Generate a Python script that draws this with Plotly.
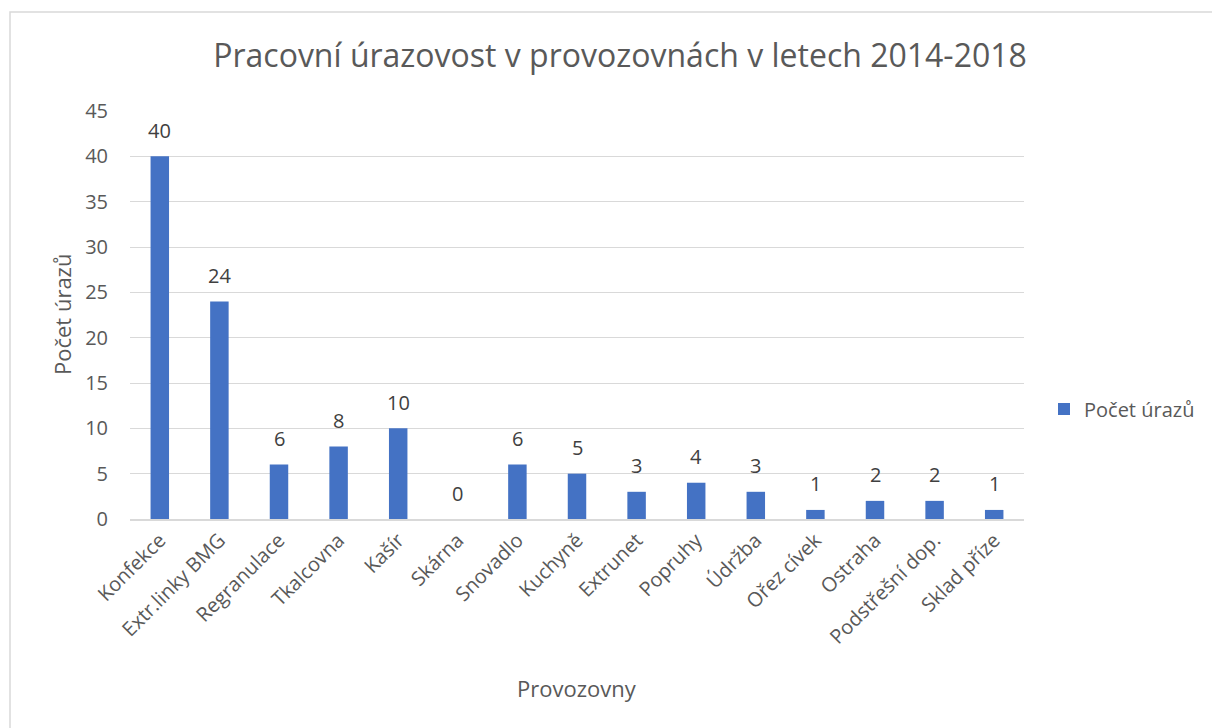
import plotly.graph_objects as go

categories = ["Konfekce", "Extr.linky BMG", "Regranulace", "Tkalcovna", "Kašír", "Skárna",
              "Snovadlo", "Kuchyně", "Extrunet", "Popruhy", "Údržba", "Ořez cívek",
              "Ostraha", "Podstřešní dop.", "Sklad příze"]
values = [40, 24, 6, 8, 10, 0, 6, 5, 3, 4, 3, 1, 2, 2, 1]
y_ticks = [0, 5, 10, 15, 20, 25, 30, 35, 40, 45]

FONT = "Open Sans"
GRAY = "#595959"
OFF = 8  # page body margin

W, H = 1220, 728
L, R, T, B = 130 - OFF, 1024 - OFF, 111 - OFF, 519 - OFF


def px(x):
    return (x - OFF - L) / (R - L)


def py(y):
    return (B - (y - OFF)) / (B - T)


fig = go.Figure()
fig.add_trace(go.Bar(
    x=categories, y=values, name="Počet úrazů",
    marker=dict(color="#4472C4", line=dict(width=0)),
    width=0.31,
    showlegend=True,
))

label_annotations = [
    dict(x=c, y=v, xref="x", yref="y", text=str(v), showarrow=False,
         xanchor="center", yanchor="middle", yshift=26,
         font=dict(family=FONT, size=20, color="#404040"))
    for c, v in zip(categories, values)
]

fig.update_layout(
    width=W, height=H,
    margin=dict(l=L, r=W - R, t=T, b=H - B, autoexpand=False),
    paper_bgcolor="white", plot_bgcolor="white",
    font=dict(family=FONT, color=GRAY),
    title=dict(text="Pracovní úrazovost v provozovnách v letech 2014-2018",
               x=px(620), xanchor="center", xref="paper", y=1 - (56 - OFF) / H, yanchor="middle",
               font=dict(family=FONT, size=32, color=GRAY)),
    xaxis=dict(showgrid=False, showline=True, linecolor="#D9D9D9", linewidth=1.5,
               tickangle=-45, ticks="", tickfont=dict(family=FONT, size=20, color=GRAY)),
    yaxis=dict(range=[0, 45], tickvals=y_ticks, showgrid=True, gridcolor="#D9D9D9", gridwidth=1,
               zeroline=False, showline=False, ticks="", ticklen=0, ticklabelstandoff=21,
               tickfont=dict(family=FONT, size=20, color=GRAY)),
    legend=dict(x=px(1044), y=py(409), xanchor="left", yanchor="middle",
                font=dict(family=FONT, size=20, color=GRAY), itemwidth=30,
                bgcolor="rgba(0,0,0,0)"),
    annotations=label_annotations + [
        dict(text="Počet úrazů", xref="paper", yref="paper", x=px(62), y=py(315),
             xanchor="center", yanchor="middle", textangle=-90, showarrow=False,
             font=dict(family=FONT, size=22, color=GRAY)),
        dict(text="Provozovny", xref="paper", yref="paper", x=px(577), y=py(688),
             xanchor="center", yanchor="middle", showarrow=False,
             font=dict(family=FONT, size=22, color=GRAY)),
    ],
    shapes=[
        dict(type="rect", xref="paper", yref="paper", x0=px(10), x1=px(1260),
             y0=py(780), y1=py(12), line=dict(color="#D9D9D9", width=1.5), layer="below"),
    ],
)

fig.write_html("out.html")
